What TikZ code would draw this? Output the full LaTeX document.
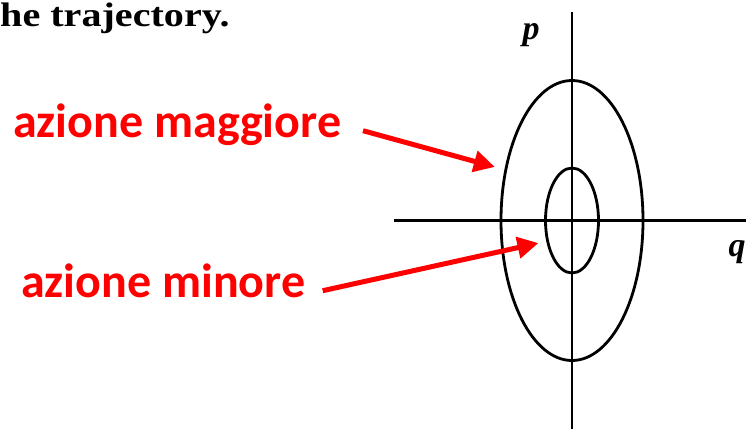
\documentclass[tikz,border=0pt]{standalone}
\usepackage{fontspec}
\usetikzlibrary{arrows.meta,positioning,shapes.geometric}
\newfontfamily\calibrifont{Carlito}
\newfontfamily\timesfont{Liberation Serif}
\definecolor{notered}{RGB}{255,0,0}

\begin{document}
\begin{tikzpicture}[
    x=1pt, y=-1pt,
    axis/.style={line width=2.4pt},
    orbit/.style={draw, ellipse, line width=2.8pt, inner sep=0pt},
    note/.style={text=notered, anchor=base west, inner sep=0pt,
      font=\calibrifont\bfseries\fontsize{48}{54}\selectfont},
    pointer/.style={-{Triangle[length=21pt,width=21pt]}, line width=5pt, draw=notered}
  ]
    \useasboundingbox (0,0) rectangle (746,429);

    % axes
    \draw[axis] (394,220.5) -- (746,220.5);
    \draw[axis] (572,12) -- (572,429);

    \node[orbit, minimum width=142pt, minimum height=280pt] (bigorbit) at (572,220.5) {};
    \node[orbit, minimum width=53pt, minimum height=105pt] (smallorbit) at (572,220.5) {};

    \node[anchor=base west, inner sep=0pt, xscale=1.18,
      font=\timesfont\bfseries\fontsize{34}{40}\selectfont] (scanline) at (0,26.7) {he trajectory.};
    \node[inner sep=0pt, font=\timesfont\bfseries\itshape\fontsize{34}{40}\selectfont] (plabel) at (531,35) {p};
    \node[inner sep=0pt, font=\timesfont\bfseries\itshape\fontsize{34}{40}\selectfont] (qlabel) at (737,252) {q};

    \node[note] (maggiore) at (13,137) {azione maggiore};
    \node[note] (minore) at (21,297.3) {azione minore};

    \coordinate (maggioreTail) at (363,130.7);
    \coordinate (minoreTail) at (322.7,290.7);
    \draw[pointer, shorten >=10pt] (maggioreTail) -- (bigorbit.143);
    \draw[pointer, shorten >=8pt] (minoreTail) -- (smallorbit.219);
  \end{tikzpicture}
\end{document}
